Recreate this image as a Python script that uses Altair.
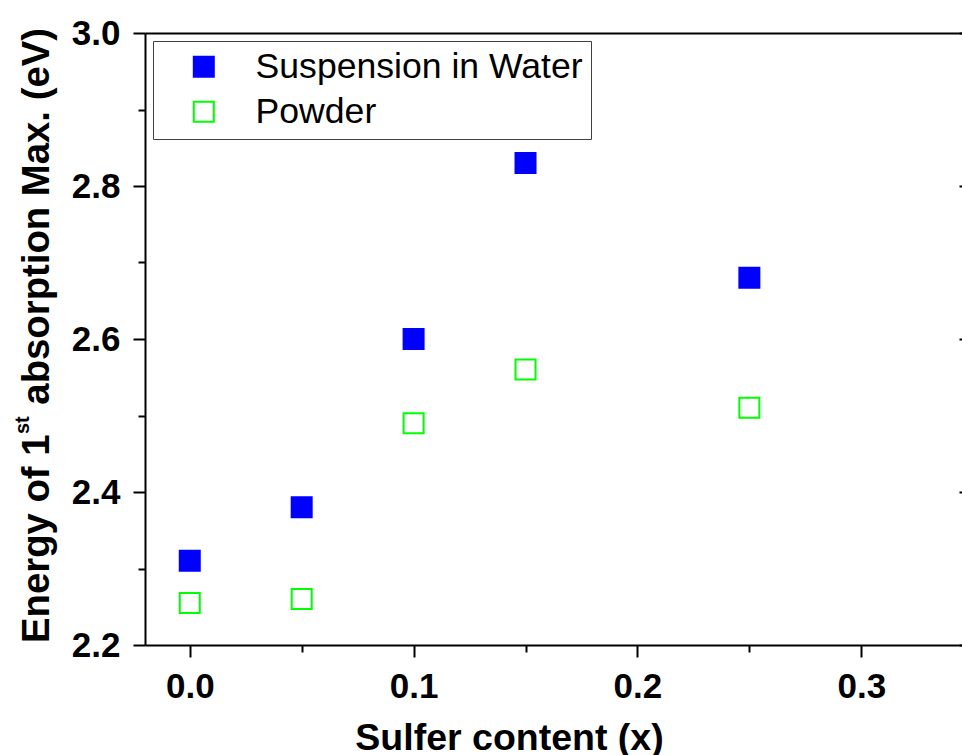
import altair as alt
import pandas as pd

# ---- data ----
x_vals = [0.0, 0.05, 0.10, 0.15, 0.25]
water = [2.31, 2.38, 2.60, 2.83, 2.68]
powder = [2.255, 2.26, 2.49, 2.56, 2.51]
series_names = ["Suspension in Water", "Powder"]
x_ticks = [0.0, 0.05, 0.1, 0.15, 0.2, 0.25, 0.3]
y_ticks = [2.2, 2.3, 2.4, 2.5, 2.6, 2.7, 2.8, 2.9, 3.0]
y_major = [2.2, 2.4, 2.6, 2.8, 3.0]
x_title = "Sulfer content (x)"
y_title_parts = ["Energy of 1", "st", " absorption Max. (eV)"]

df = pd.DataFrame({
    "x": x_vals + x_vals,
    "y": water + powder,
    "series": [series_names[0]] * len(water) + [series_names[1]] * len(powder),
})

FONT = "Liberation Sans"
W, H = 817, 612

xscale = alt.Scale(domain=[-0.02, 0.345], nice=False, zero=False)
yscale = alt.Scale(domain=[2.2, 3.0], nice=False, zero=False)

major_x = "abs(datum.value*10 - round(datum.value*10)) < 0.001"
major_y = "abs(datum.value*5 - round(datum.value*5)) < 0.001"

axis_common = dict(
    domainColor="black", domainWidth=2, tickColor="black", tickWidth=2,
    labelFont=FONT, labelFontWeight="bold", labelFontSize=35, labelColor="black",
    grid=False,
)

legend = alt.Legend(
    title=None, orient="none", legendX=8, legendY=8, direction="vertical",
    symbolType="square", symbolSize=400, symbolStrokeWidth=2,
    symbolOffset=25, labelOffset=34, labelFont=FONT, labelFontSize=35.6,
    labelColor="black", padding=8, rowPadding=8, strokeColor="#404040",
    fillColor="white", labelLimit=0,
)

points = alt.Chart(df).mark_point(
    shape="square", size=400, strokeWidth=2, filled=True, opacity=1
).encode(
    x=alt.X("x:Q", scale=xscale, axis=alt.Axis(
        orient="bottom", values=x_ticks, title=x_title,
        labelExpr=f"{major_x} ? format(datum.value, '.1f') : ''",
        tickSize={"condition": {"test": major_x, "value": 12}, "value": 7},
        labelPadding=12,
        titleFont=FONT, titleFontWeight="bold", titleFontSize=37.5, titleColor="black",
        titleX=364, titleY=104, titleAlign="center", titleBaseline="alphabetic",
        **axis_common)),
    y=alt.Y("y:Q", scale=yscale, axis=alt.Axis(
        orient="left", values=y_ticks, title=None,
        labelExpr=f"{major_y} ? format(datum.value, '.1f') : ''",
        tickSize={"condition": {"test": major_y, "value": 12}, "value": 7},
        labelPadding=13,
        **axis_common)),
    stroke=alt.Stroke("series:N", scale=alt.Scale(domain=series_names, range=["#0000ff", "#00ff00"]), legend=legend),
    fill=alt.Fill("series:N", scale=alt.Scale(domain=series_names, range=["#0000ff", "#ffffff"]), legend=legend),
)

frame = alt.Chart(df).mark_point(opacity=0).encode(
    x=alt.X("x:Q", scale=xscale, axis=alt.Axis(
        orient="top", title=None, labels=False, ticks=False,
        domainColor="black", domainWidth=2, grid=False)),
    y=alt.Y("y:Q", scale=yscale, axis=alt.Axis(
        orient="right", title=None, labels=False, domain=False, values=y_major,
        ticks=True, tickSize=3, tickWidth=2, tickColor="black", offset=-3, grid=False)),
)

tdf = pd.DataFrame({"a": [0]})
t_style = dict(angle=270, baseline="alphabetic", font=FONT, fontWeight="bold", color="black")
t1 = alt.Chart(tdf).mark_text(text=y_title_parts[0], align="left", fontSize=38.3, **t_style).encode(
    x=alt.value(-96), y=alt.value(610))
t2 = alt.Chart(tdf).mark_text(text=y_title_parts[1], align="left", fontSize=20, **t_style).encode(
    x=alt.value(-116), y=alt.value(401))
t3 = alt.Chart(tdf).mark_text(text=y_title_parts[2], align="right", fontSize=38.3, **t_style).encode(
    x=alt.value(-96), y=alt.value(-5))

chart = alt.layer(points, frame, t1, t2, t3).resolve_axis(
    x="independent", y="independent"
).properties(
    width=W, height=H,
    autosize=alt.AutoSizeParams(type="none"),
    padding={"left": 145, "top": 33, "right": 0, "bottom": 110},
    background="white",
).configure_view(stroke=None)

chart.save("out.html", embed_options={"renderer": "svg", "actions": False})
